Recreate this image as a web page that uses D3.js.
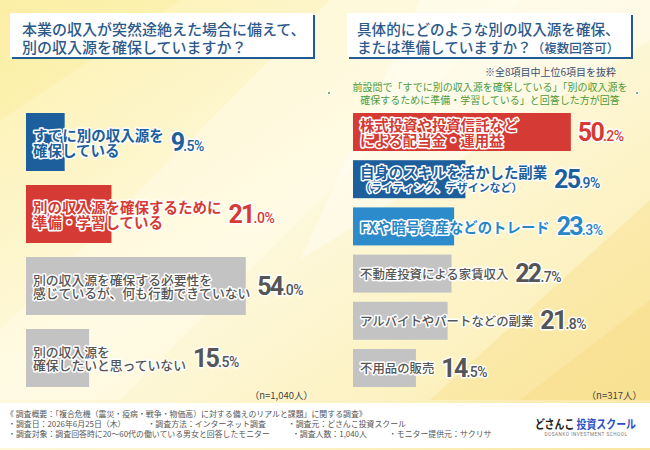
<!DOCTYPE html>
<html><head><meta charset="utf-8">
<script src="https://cdn.jsdelivr.net/npm/d3@7"></script>
<style>html,body{margin:0;padding:0;background:#fff}svg{display:block}</style>
</head><body>
<svg id="c" width="650" height="450"></svg>
<script>
// ---------- DATA ----------
const leftTitle = ["本業の収入が突然途絶えた場合に備えて、", "別の収入源を確保していますか？"];
const leftCategories = [
  "すでに別の収入源を\n確保している",
  "別の収入源を確保するために\n準備・学習している",
  "別の収入源を確保する必要性を\n感じているが、何も行動できていない",
  "別の収入源を\n確保したいと思っていない"
];
const leftValues = [9.5, 21.0, 54.0, 15.5];
const leftN = "（n=1,040人）";

const rightTitle = ["具体的にどのような別の収入源を確保、", "または準備していますか？"];
const rightTitleNote = "（複数回答可）";
const rightNote1 = "※全8項目中上位6項目を抜粋";
const rightNote2 = ["前設問で「すでに別の収入源を確保している」「別の収入源を", "確保するために準備・学習している」と回答した方が回答"];
const rightCategories = [
  "株式投資や投資信託など\nによる配当金・運用益",
  "自身のスキルを活かした副業\n（ライティング、デザインなど）",
  "FXや暗号資産などのトレード",
  "不動産投資による家賃収入",
  "アルバイトやパートなどの副業",
  "不用品の販売"
];
const rightValues = [50.2, 25.9, 23.3, 22.7, 21.8, 14.5];
const rightN = "（n=317人）";

const footerLines = [
  ["《 調査概要：「複合危機（震災・疫病・戦争・物価高）に対する備えのリアルと課題」に関する調査》"],
  ["・調査日：2026年6月25日（木）", "・調査方法：インターネット調査", "・調査元：どさんこ投資スクール"],
  ["・調査対象：調査回答時に20〜60代の働いている男女と回答したモニター", "・調査人数：1,040人", "・モニター提供元：サクリサ"]
];
const logoParts = ["どさんこ ", "投資スクール"];
const logoSub = "DOSANKO INVESTMENT SCHOOL";

// ---------- STYLE ----------
const FONT = "'Noto Sans CJK JP','Noto Sans',sans-serif";
const NUMFONT = "Roboto,'Liberation Sans',sans-serif";
const leftColors = ["#1d5e9c", "#d53b34", "#c3c3c3", "#c3c3c3"];
const leftText = ["#1d5e9c", "#d53b34", "#555555", "#555555"];
const rightColors = ["#d53b34", "#1d5e9c", "#2b8bcb", "#c3c3c3", "#c3c3c3", "#c3c3c3"];
const rightText = ["#d53b34", "#1d5e9c", "#2787c7", "#555555", "#555555", "#555555"];

const svg = d3.select("#c");
const defs = svg.append("defs");

// background
const g1 = defs.append("linearGradient").attr("id", "bg").attr("x1", "0").attr("y1", "0").attr("x2", "1").attr("y2", "1");
g1.append("stop").attr("offset", "0").attr("stop-color", "#fcf0ad");
g1.append("stop").attr("offset", "0.45").attr("stop-color", "#fef9de");
g1.append("stop").attr("offset", "0.75").attr("stop-color", "#fcf1c0");
g1.append("stop").attr("offset", "1").attr("stop-color", "#f9e6a0");
svg.append("rect").attr("width", 650).attr("height", 450).attr("fill", "url(#bg)");
svg.append("path").attr("d", "M330,0 L520,0 L120,400 L0,400 L0,330 Z").attr("fill", "#fffbe8").attr("opacity", 0.55);
svg.append("path").attr("d", "M420,0 L650,0 L650,40 L300,260 Z").attr("fill", "#ffffff").attr("opacity", 0.35);
svg.append("path").attr("d", "M650,200 L650,400 L430,400 Z").attr("fill", "#f8e08e").attr("opacity", 0.45);
svg.append("path").attr("d", "M650,300 L650,400 L520,400 Z").attr("fill", "#f6d97e").attr("opacity", 0.35);
svg.append("path").attr("d", "M0,0 L180,0 L0,120 Z").attr("fill", "#fbed9c").attr("opacity", 0.4);

// footer band
svg.append("rect").attr("x", 0).attr("y", 403).attr("width", 650).attr("height", 45).attr("fill", "#ffffff");

// ---------- TITLES ----------
function titleBox(x, w) {
  svg.append("rect").attr("x", x + 2).attr("y", 15).attr("width", w).attr("height", 44).attr("fill", "#1f5c96");
  svg.append("rect").attr("x", x).attr("y", 13).attr("width", w).attr("height", 44).attr("fill", "#ffffff");
}
titleBox(10, 303);
titleBox(347, 284);
svg.append("g").selectAll("text").data(leftTitle).join("text")
  .attr("x", 22).attr("y", (d, i) => 28 + i * 18.5)
  .attr("dominant-baseline", "central")
  .attr("font-family", FONT).attr("font-size", 15).attr("font-weight", 500)
  .attr("fill", "#2d5a8c").text(d => d);
const rt = svg.append("g").selectAll("text").data(rightTitle).join("text")
  .attr("x", 357).attr("y", (d, i) => 28 + i * 18.5)
  .attr("dominant-baseline", "central")
  .attr("font-family", FONT).attr("font-size", 14.6).attr("font-weight", 500)
  .attr("fill", "#2d5a8c").text(d => d);
rt.filter((d, i) => i === 1).append("tspan").attr("font-size", 12.5).text(rightTitleNote);

// notes
svg.append("text").attr("x", 616).attr("y", 71).attr("text-anchor", "end")
  .attr("dominant-baseline", "central").attr("font-family", FONT).attr("font-size", 10)
  .attr("fill", "#3b4f72").text(rightNote1);
svg.append("g").selectAll("text").data(rightNote2).join("text")
  .attr("x", 490).attr("y", (d, i) => 86 + i * 13).attr("text-anchor", "middle")
  .attr("dominant-baseline", "central").attr("font-family", FONT).attr("font-size", 10)
  .attr("fill", "#4c9a3c").text(d => d);
[329, 637].forEach(cx => {
  svg.append("circle").attr("cx", cx).attr("cy", 93).attr("r", 2.2).attr("fill", "#ffffff");
  svg.append("circle").attr("cx", cx).attr("cy", 93).attr("r", 1).attr("fill", "#4c9a3c");
});

// ---------- BAR CHART HELPER ----------
function drawBars(cfg) {
  const g = svg.append("g");
  const n = cfg.values.length;
  const y = d3.scaleBand().domain(d3.range(n)).range(cfg.yRange).paddingInner(cfg.pad).paddingOuter(0);
  const x = d3.scaleLinear().domain([0, 100]).range([cfg.x0, cfg.x0 + cfg.pxPer100]);
  g.selectAll("rect.bar").data(cfg.values).join("rect").attr("class", "bar")
    .attr("x", x(0)).attr("y", (d, i) => y(i))
    .attr("width", d => x(d) - x(0)).attr("height", y.bandwidth())
    .attr("fill", (d, i) => cfg.colors[i]);

  cfg.values.forEach((v, i) => {
    const lines = cfg.categories[i].split("\n");
    const cy = y(i) + y.bandwidth() / 2;
    const big = cfg.bigIdx.includes(i);
    const fs = big ? cfg.bigFs : cfg.smallFs;
    const lh = big ? cfg.lineH : cfg.lineHs;
    let maxW = 0;
    lines.forEach((ln, j) => {
      const sub = ln.startsWith("（");
      const t = g.append("text").attr("font-family", FONT).attr("font-weight", big ? 700 : 500)
        .attr("fill", cfg.textColors[i]).attr("stroke", "#ffffff").attr("stroke-width", 3)
        .attr("stroke-linejoin", "round").attr("paint-order", "stroke")
        .attr("dominant-baseline", "central")
        .attr("x", cfg.x0 + 7)
        .attr("y", cy + (j - (lines.length - 1) / 2) * lh + (sub ? 0.5 : 0))
        .attr("font-size", sub ? fs * 0.76 : fs).text(ln);
      maxW = Math.max(maxW, t.node().getComputedTextLength());
    });
    const vx = Math.max(x(v), cfg.x0 + 7 + maxW) + 7;
    const parts = d3.format(".1f")(v).split(".");
    const vt = g.append("text").attr("x", vx).attr("y", cy + 8.5)
      .attr("font-family", NUMFONT).attr("font-weight", 700)
      .attr("fill", cfg.textColors[i]).attr("stroke", "#ffffff").attr("stroke-width", 3)
      .attr("stroke-linejoin", "round").attr("paint-order", "stroke");
    vt.append("tspan").attr("font-size", 25).attr("letter-spacing", -1.8).text(parts[0]);
    vt.append("tspan").attr("font-size", 14).attr("font-weight", 500).attr("letter-spacing", -0.5).text("." + parts[1] + "%");
  });
  svg.append("text").attr("x", cfg.nX).attr("y", 395).attr("text-anchor", "end")
    .attr("dominant-baseline", "central").attr("font-family", FONT).attr("font-size", 9.5)
    .attr("fill", "#444").text(cfg.n);
}

drawBars({
  values: leftValues, categories: leftCategories, colors: leftColors, textColors: leftText,
  x0: 26, pxPer100: 407, yRange: [113, 387], pad: 14 / 72,
  bigIdx: [0, 1], bigFs: 14.5, smallFs: 12.8, lineH: 15, lineHs: 13.5, n: leftN, nX: 313
});
drawBars({
  values: rightValues, categories: rightCategories, colors: rightColors, textColors: rightText,
  x0: 353, pxPer100: 434, yRange: [113, 387], pad: 9.2 / 47.2,
  bigIdx: [0, 1, 2], bigFs: 14.4, smallFs: 12.4, lineH: 14.5, lineHs: 13.5, n: rightN, nX: 642
});

// ---------- FOOTER ----------
footerLines.forEach((segs, li) => {
  let cx = li === 0 ? 6 : 8;
  segs.forEach((s, si) => {
    const t = svg.append("text").attr("x", cx).attr("y", 413 + li * 10.3)
      .attr("dominant-baseline", "central").attr("font-family", FONT).attr("font-size", 7.9)
      .attr("fill", "#555").text(s);
    cx += t.node().getComputedTextLength() + 22;
  });
});
const logo = svg.append("text").attr("x", 535).attr("y", 423).attr("dominant-baseline", "central")
  .attr("font-family", FONT).attr("font-size", 12).attr("font-weight", 700)
  .attr("textLength", 101).attr("lengthAdjust", "spacingAndGlyphs");
logo.append("tspan").attr("fill", "#222").text(logoParts[0]);
logo.append("tspan").attr("fill", "#2b4fc6").text(logoParts[1]);
svg.append("text").attr("x", 586).attr("y", 434.5).attr("text-anchor", "middle")
  .attr("dominant-baseline", "central").attr("font-family", NUMFONT).attr("font-size", 4.6)
  .attr("letter-spacing", 0.55).attr("fill", "#777").text(logoSub);
</script>
</body></html>
